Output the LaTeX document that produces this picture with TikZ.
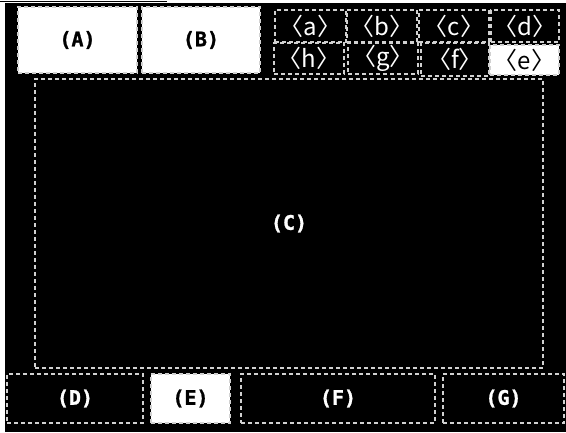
\documentclass[tikz,border=0pt]{standalone}
\usepackage{fontspec}
\newfontfamily\cjk{Noto Sans CJK JP}
\newfontfamily\capmono[BoldFeatures={FakeBold=1.2}]{DejaVu Sans Mono}
\begin{document}
\begin{tikzpicture}[x=1pt,y=-1pt,
  panel/.style={draw=dashgrey, line width=1.2pt, dash pattern=on 4pt off 3pt, inner sep=0pt, anchor=center},
  dkbox/.style={panel, fill=black, text=white},
  wtbox/.style={panel, fill=white, text=black},
  capfont/.style={font=\capmono\bfseries\fontsize{20}{20}\selectfont},
  tabfont/.style={font=\cjk\fontsize{24}{24}\selectfont}]
\definecolor{dashgrey}{gray}{0.82}
\useasboundingbox (0,0) rectangle (566,432);
\fill[white] (0,0) rectangle (566,432);
\fill[black] (5,3) rectangle (566,432);
\draw[black, line width=1pt] (0,1) -- (167,1);
% top row
\node[wtbox, capfont, minimum width=119pt, minimum height=66pt] (A) at (77.5,40) {\raisebox{-3pt}{(A)}};
\node[wtbox, capfont, minimum width=118pt, minimum height=66pt] (B) at (201,40) {\raisebox{-3pt}{(B)}};
% tabs
\node[dkbox, tabfont, minimum width=71pt, minimum height=32pt] (ta) at (310.5,26) {〈a〉};
\node[dkbox, tabfont, minimum width=70pt, minimum height=32pt] (tb) at (382,26) {〈b〉};
\node[dkbox, tabfont, minimum width=70pt, minimum height=32pt] (tc) at (454,26) {〈c〉};
\node[dkbox, tabfont, minimum width=68pt, minimum height=32pt] (td) at (525,26) {〈d〉};
\node[dkbox, tabfont, minimum width=70pt, minimum height=31pt] (th) at (309,58.5) {〈h〉};
\node[dkbox, tabfont, minimum width=70pt, minimum height=31pt] (tg) at (383,58.5) {〈g〉};
\node[dkbox, tabfont, minimum width=68pt, minimum height=33pt] (tf) at (455,59.5) {〈f〉};
\node[wtbox, tabfont, minimum width=69pt, minimum height=30pt] (te) at (524.5,60) {〈e〉};
% main
\node[dkbox, capfont, minimum width=508pt, minimum height=289pt] (C) at (289,223.5) {(C)};
% bottom row
\node[dkbox, capfont, minimum width=136pt, minimum height=49pt] (D) at (75,398.5) {(D)};
\node[wtbox, capfont, minimum width=79pt, minimum height=49pt] (E) at (190.5,398.5) {(E)};
\node[dkbox, capfont, minimum width=194pt, minimum height=49pt] (F) at (338,398.5) {(F)};
\node[dkbox, capfont, minimum width=121pt, minimum height=49pt] (G) at (503.5,398.5) {(G)};
\end{tikzpicture}
\end{document}
